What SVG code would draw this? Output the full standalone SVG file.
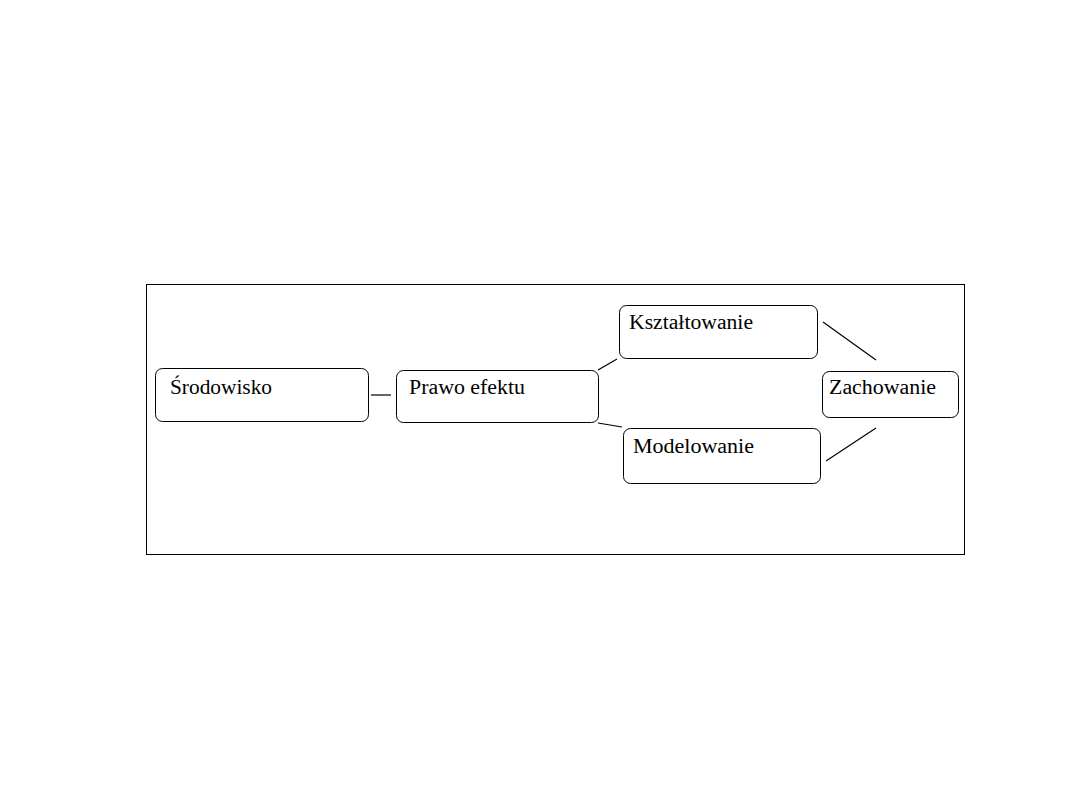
<svg xmlns="http://www.w3.org/2000/svg" width="1080" height="810" viewBox="0 0 1080 810">
<style>
.box{fill:#fff;stroke:#000;stroke-width:1}
.t{font-family:'Liberation Serif','DejaVu Serif',serif;font-size:20px;fill:#000}
.c{stroke:#000;stroke-width:1.2;fill:none}
</style>
<rect x="0" y="0" width="1080" height="810" fill="#fff"/>
<rect id="frame" x="146.5" y="284.5" width="818" height="270" fill="none" stroke="#000" stroke-width="1"/>
<g id="connectors">
<line class="c" x1="371" y1="395" x2="391" y2="395"/>
<line class="c" x1="598" y1="370" x2="617" y2="359"/>
<line class="c" x1="598" y1="423" x2="622" y2="427"/>
<line class="c" x1="823" y1="322" x2="876" y2="360"/>
<line class="c" x1="826" y1="461" x2="876" y2="428"/>
</g>
<g id="srodowisko"><rect class="box" x="155.5" y="368.5" width="213" height="53" rx="7"/><text class="t" x="170" y="394" textLength="102" lengthAdjust="spacingAndGlyphs">Środowisko</text></g>
<g id="prawo-efektu"><rect class="box" x="396.5" y="370.5" width="202" height="52" rx="7"/><text class="t" x="409" y="394" textLength="116" lengthAdjust="spacingAndGlyphs">Prawo efektu</text></g>
<g id="ksztaltowanie"><rect class="box" x="619.5" y="305.5" width="198" height="53" rx="7"/><text class="t" x="629" y="329" textLength="124" lengthAdjust="spacingAndGlyphs">Kształtowanie</text></g>
<g id="modelowanie"><rect class="box" x="623.5" y="428.5" width="197" height="55" rx="7"/><text class="t" x="633" y="453" textLength="121" lengthAdjust="spacingAndGlyphs">Modelowanie</text></g>
<g id="zachowanie"><rect class="box" x="822.5" y="371.5" width="136" height="46" rx="7"/><text class="t" x="829" y="394" textLength="107" lengthAdjust="spacingAndGlyphs">Zachowanie</text></g>
</svg>
